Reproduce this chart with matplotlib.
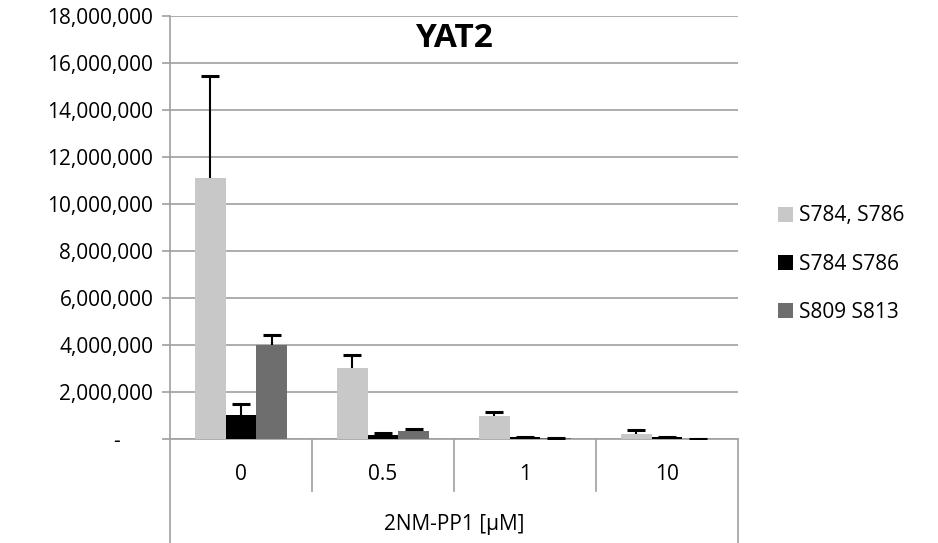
import numpy as np
import matplotlib.pyplot as plt
from matplotlib.ticker import FuncFormatter, MultipleLocator
from matplotlib.transforms import blended_transform_factory

plt.rcParams['font.family'] = ['Open Sans', 'DejaVu Sans']

# data
categories = ['0', '0.5', '1', '10']
series = ['S784, S786', 'S784 S786', 'S809 S813']
values = [
    [11100000, 3020000, 980000, 200000],
    [1020000, 150000, 80000, 70000],
    [4000000, 340000, 30000, 20000],
]
errors = [
    [4350000, 550000, 170000, 200000],
    [470000, 100000, 20000, 30000],
    [430000, 80000, 30000, 0],
]
colors = ['#c8c8c8', '#000000', '#6e6e6e']

fig = plt.figure(figsize=(9.38, 5.43), dpi=100)
ax = fig.add_axes([170 / 938, 1 - 439 / 543, 568 / 938, 423 / 543])

x = np.arange(len(categories))
w = 0.215
for i, (name, vals, errs, c) in enumerate(zip(series, values, errors, colors)):
    xs = x + (i - 1) * w
    tops = np.array(vals) + np.array(errs)
    ax.bar(xs, vals, w, color=c, label=name, zorder=3)
    # plus-only error bars, cap on top only
    ax.vlines(xs, vals, tops, color='black', lw=1.5, zorder=4)
    ax.plot(xs, tops, ls='none', marker='_', ms=13, mew=2.2, color='black', zorder=4)

ax.set_xlim(-0.5, len(categories) - 0.5)
ax.set_ylim(0, 18000000)
ax.yaxis.set_major_locator(MultipleLocator(2000000))
ax.yaxis.set_major_formatter(FuncFormatter(lambda v, p: '-' + ' ' * 6 if v == 0 else f'{int(v):,}'))
ax.tick_params(axis='y', labelsize=15, length=6, width=1.2, color='#a0a0a0', pad=6)
ax.set_xticks([])
ax.grid(axis='y', color='#a0a0a0', lw=1.2, zorder=0)
for s in ['top', 'right']:
    ax.spines[s].set_visible(False)
for s in ['left', 'bottom']:
    ax.spines[s].set_color('#a0a0a0')
    ax.spines[s].set_linewidth(1.2)

# category table below the axis
tr = blended_transform_factory(ax.transData, ax.transAxes)
for k in range(len(categories) + 1):
    xb = k - 0.5
    bottom = -0.25 if k in (0, len(categories)) else -0.122
    ax.plot([xb, xb], [0, bottom], transform=tr, color='#a0a0a0', lw=1.2, clip_on=False)
for xi, lab in zip(x, categories):
    ax.text(xi, -0.083, lab, transform=tr, ha='center', va='center', fontsize=15)
ax.text(0.5, -0.203, '2NM-PP1 [µM]', transform=ax.transAxes, ha='center', va='center', fontsize=15)

ax.text(0.5, 0.946, 'YAT2', transform=ax.transAxes, ha='center', va='center',
        fontsize=24, fontweight='bold')

fig.legend(loc='center left', bbox_to_anchor=(778 / 938, 1 - 264 / 543), frameon=False,
           fontsize=15, handlelength=0.72, handleheight=0.72, handletextpad=0.3,
           labelspacing=1.3, borderpad=0, borderaxespad=0)

fig.savefig('out.png', dpi=100)
